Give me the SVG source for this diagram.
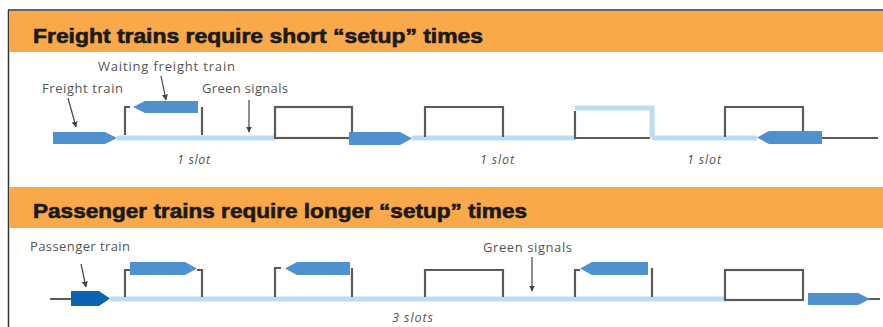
<svg xmlns="http://www.w3.org/2000/svg" width="883" height="327" viewBox="0 0 883 327">
<style>
.hdr{fill:#F9A84A}
.title{font-family:"Liberation Sans",Arial,sans-serif;font-weight:bold;font-size:20px;fill:#1a1a1a;stroke:#1a1a1a;stroke-width:0.6}
.lbl{font-family:"Open Sans","Noto Sans",sans-serif;font-size:13px;fill:#555}
.slot{font-family:"Open Sans","Noto Sans",sans-serif;font-size:12.5px;font-style:italic;fill:#555}
.trk{stroke:#BCDCF3;stroke-width:5;fill:none}
.gtrk{stroke:#5a5a5a;stroke-width:2;fill:none}
.box{stroke:#5a5a5a;stroke-width:2.2;fill:none}
.lbox{stroke:#BCDCF3;stroke-width:5;fill:none}
.post{stroke:#5a5a5a;stroke-width:2.2;fill:none}
.train{fill:#4E90D0}
.ptrain{fill:#0B63B3}
.arr{stroke:#444;stroke-width:1.2;fill:none;marker-end:url(#ah)}
</style>
<defs>
<marker id="ah" viewBox="0 0 10 10" refX="9" refY="5" markerWidth="6" markerHeight="6" orient="auto" markerUnits="userSpaceOnUse">
<path d="M0,0 L10,5 L0,10 Z" fill="#444"/>
</marker>
</defs>
<rect x="0" y="0" width="883" height="327" fill="#fff"/>
<g id="frame">
<line x1="8" y1="10" x2="883" y2="10" stroke="#333" stroke-width="1.5"/>
<line x1="8.5" y1="10" x2="8.5" y2="327" stroke="#333" stroke-width="1.5"/>
</g>
<g id="header-freight">
<rect class="hdr" x="9" y="11" width="874" height="41"/>
<text class="title" x="33" y="43" textLength="450" lengthAdjust="spacingAndGlyphs">Freight trains require short “setup” times</text>
</g>
<g id="header-passenger">
<rect class="hdr" x="9" y="187" width="874" height="41"/>
<text class="title" x="33" y="218" textLength="494" lengthAdjust="spacingAndGlyphs">Passenger trains require longer “setup” times</text>
</g>

<g id="freight-track">
<line class="trk" x1="117" y1="138" x2="275" y2="138"/>
<line class="trk" x1="412" y1="138" x2="576" y2="138"/>
<line class="trk" x1="652" y1="138" x2="757" y2="138"/>
<line class="gtrk" x1="820" y1="138" x2="878" y2="138"/>
</g>
<g id="freight-signals-1">
<path class="post" d="M130,107 H125 V135"/>
<path class="post" d="M202,107 V135"/>
</g>
<g id="freight-box-1"><rect class="box" x="275" y="107" width="77" height="31"/></g>
<g id="freight-box-2"><path class="box" d="M425,137 V107 H503 V137"/></g>
<g id="freight-box-3">
<path class="box" d="M575,111 V138 H650"/>
<path class="lbox" d="M575,108 H652 V138"/>
</g>
<g id="freight-box-4"><path class="box" d="M725,137 V107 H803 V137"/></g>
<g id="freight-train-1"><path class="train" d="M53,132 H105 L117,138 L105,144 H53 Z"/></g>
<g id="waiting-freight-train"><path class="train" d="M198,101 H145 L133,107 L145,113 H198 Z"/></g>
<g id="freight-train-2"><path class="train" d="M349,132 H400 L412,138.5 L400,145 H349 Z"/></g>
<g id="freight-train-3"><path class="train" d="M822,131 H769 L757,137.5 L769,144 H822 Z"/></g>
<g id="freight-labels">
<text class="lbl" x="42" y="93" textLength="81">Freight train</text>
<text class="lbl" x="98" y="71" textLength="137">Waiting freight train</text>
<text class="lbl" x="202" y="93" textLength="86">Green signals</text>
<text class="slot" x="177" y="164" textLength="33">1 slot</text>
<text class="slot" x="480" y="164" textLength="34">1 slot</text>
<text class="slot" x="687" y="164" textLength="34">1 slot</text>
</g>

<g id="passenger-track">
<line class="gtrk" x1="50" y1="299" x2="72" y2="299"/>
<line class="trk" x1="110" y1="299" x2="725" y2="299"/>
<line class="gtrk" x1="868" y1="299" x2="880" y2="299"/>
</g>
<g id="passenger-signals-1">
<path class="post" d="M130,270 H125 V297"/>
<path class="post" d="M197,270 H202 V297"/>
</g>
<g id="passenger-signals-2">
<path class="post" d="M281,268 H275 V297"/>
<path class="post" d="M352,268 V297"/>
</g>
<g id="passenger-box-c"><path class="box" d="M425,297 V270 H503 V297"/></g>
<g id="passenger-signals-3">
<path class="post" d="M580,270 H575 V297"/>
<path class="post" d="M652,268 V297"/>
</g>
<g id="passenger-box-d"><rect class="box" x="725" y="270" width="78" height="30"/></g>
<g id="passenger-train"><path class="ptrain" d="M71,291 H99 L110,298.5 L99,306 H71 Z"/></g>
<g id="siding-train-a"><path class="train" d="M130,262 H185 L197,268.5 L185,275 H130 Z"/></g>
<g id="siding-train-b"><path class="train" d="M350,262 H297 L285,268.5 L297,275 H350 Z"/></g>
<g id="siding-train-d"><path class="train" d="M648,262 H592 L580,268.5 L592,275 H648 Z"/></g>
<g id="passenger-freight-train"><path class="train" d="M808,293 H858 L870,299 L858,305 H808 Z"/></g>
<g id="passenger-labels">
<text class="lbl" x="30" y="251" textLength="100">Passenger train</text>
<text class="lbl" x="483" y="252" textLength="89">Green signals</text>
<text class="slot" x="392" y="322" textLength="41">3 slots</text>
</g>

<g id="connectors">
<path class="arr" d="M68,98 L76,127"/>
<path class="arr" d="M161,76 L166,100"/>
<path class="arr" d="M249,100 L249,132"/>
<path class="arr" d="M81,264 L86,287"/>
<path class="arr" d="M532,257 L532,291"/>
</g>
</svg>
